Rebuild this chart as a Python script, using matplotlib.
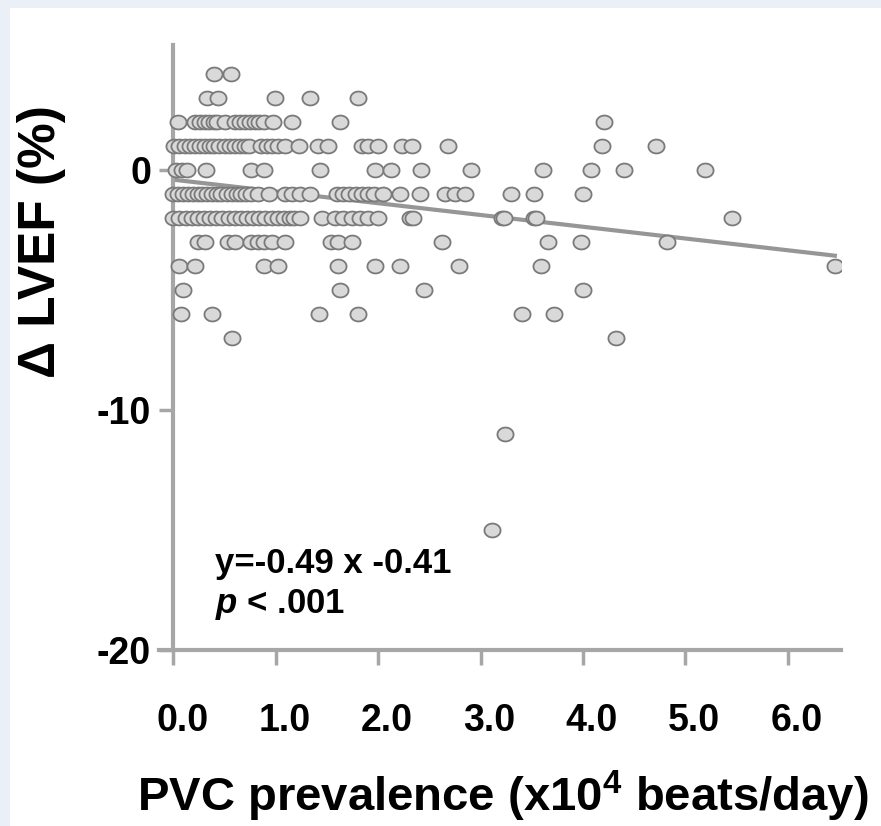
import numpy as np
import matplotlib
matplotlib.use("Agg")
import matplotlib.pyplot as plt
from matplotlib.patches import Rectangle
from matplotlib.path import Path
from matplotlib.transforms import ScaledTranslation

plt.rcParams["font.family"] = ["Liberation Sans", "DejaVu Sans"]
plt.rcParams["font.weight"] = "bold"
plt.rcParams["axes.unicode_minus"] = False
plt.rcParams["mathtext.fontset"] = "custom"
plt.rcParams["mathtext.rm"] = "Liberation Sans:bold"
plt.rcParams["mathtext.bf"] = "Liberation Sans:bold"
plt.rcParams["mathtext.it"] = "Liberation Sans:bold:italic"

# ─────────────────────────────────────────────
# DATA (one list per ΔLVEF row)
# ─────────────────────────────────────────────
x_p4 = [0.40, 0.56]
x_p3 = [0.33, 0.44, 0.99, 1.33, 1.80]
x_p2 = [0.05, 0.21, 0.26, 0.31, 0.35, 0.40, 0.43, 0.50, 0.60, 0.65, 0.70,
        0.75, 0.80, 0.84, 0.89, 0.97, 1.16, 1.63, 4.21]
x_p1 = [0.01, 0.06, 0.11, 0.16, 0.21, 0.26, 0.31, 0.36, 0.40, 0.45, 0.50,
        0.55, 0.60, 0.65, 0.70, 0.74, 0.86, 0.91, 0.96, 1.02, 1.09, 1.23,
        1.41, 1.51, 1.84, 1.90, 2.00, 2.23, 2.33, 2.68, 4.19, 4.71]
x_0 = [0.03, 0.08, 0.13, 0.32, 0.76, 0.89, 1.43, 1.97, 2.13, 2.42, 2.91,
       3.61, 4.08, 4.40, 5.19]
x_m1 = [0.00, 0.05, 0.09, 0.14, 0.19, 0.24, 0.28, 0.33, 0.38, 0.43, 0.47,
        0.52, 0.57, 0.62, 0.66, 0.71, 0.76, 0.83, 0.93, 1.09, 1.16, 1.24,
        1.33, 1.60, 1.66, 1.72, 1.78, 1.84, 1.90, 1.96, 2.05, 2.21, 2.41,
        2.65, 2.75, 2.85, 3.30, 3.52, 4.00]
x_m2 = [0.00, 0.06, 0.12, 0.18, 0.24, 0.30, 0.36, 0.42, 0.48, 0.54, 0.60,
        0.66, 0.72, 0.78, 0.84, 0.90, 0.96, 1.02, 1.08, 1.14, 1.18, 1.24,
        1.45, 1.58, 1.66, 1.74, 1.82, 1.90, 2.00, 2.31, 2.34, 3.21, 3.23,
        3.52, 3.54, 5.46]
x_m3 = [0.24, 0.31, 0.53, 0.60, 0.76, 0.83, 0.89, 0.96, 1.09, 1.54, 1.61,
        1.74, 2.62, 3.66, 3.98, 4.82]
x_m4 = [0.06, 0.21, 0.89, 1.02, 1.61, 1.97, 2.21, 2.79, 3.59, 6.46]
x_m5 = [0.09, 1.63, 2.45, 4.00]
x_m6 = [0.07, 0.38, 1.42, 1.80, 3.40, 3.72]
x_m7 = [0.57, 4.32]
x_m11 = [3.24]
x_m15 = [3.11]

rows = [(4, x_p4), (3, x_p3), (2, x_p2), (1, x_p1), (0, x_0), (-1, x_m1),
        (-2, x_m2), (-3, x_m3), (-4, x_m4), (-5, x_m5), (-6, x_m6),
        (-7, x_m7), (-11, x_m11), (-15, x_m15)]

slope, intercept = -0.49, -0.41
fit_x = [0.0, 6.48]

xticks = [0, 1, 2, 3, 4, 5, 6]
xtick_labels = ["0.0", "1.0", "2.0", "3.0", "4.0", "5.0", "6.0"]
yticks = [0, -10, -20]

# ─────────────────────────────────────────────
# COLOURS
# ─────────────────────────────────────────────
AXIS = "#a6a6a6"
FACE = "#d9d9d9"
EDGE = "#7a7a7a"
LINE = "#969696"
BG   = "#eaeff8"

W, H = 881, 826
fig = plt.figure(figsize=(W / 100, H / 100), dpi=100)
fig.patch.set_facecolor(BG)
fig.patches.append(Rectangle((10 / W, 0), 1, 1 - 8 / H, transform=fig.transFigure,
                             facecolor="white", edgecolor="none", zorder=-5))

ax = fig.add_axes([159 / W, (H - 650) / H, 682 / W, 605 / H])
ax.set_facecolor("none")
ax.set_zorder(2)

xs = np.concatenate([np.array(v, dtype=float) for _, v in rows])
ys = np.concatenate([np.full(len(v), yv, dtype=float) for yv, v in rows])

# slightly flattened circle marker, like the original export
t = np.linspace(0, 2 * np.pi, 60)
ell = Path(np.column_stack([np.cos(t), 0.86 * np.sin(t)]), closed=True)

fx = np.array(fit_x)
ax.plot(fx, slope * fx + intercept, color=LINE, lw=3.0, zorder=2,
        solid_capstyle="butt")
ax.scatter(xs, ys, s=135, marker=ell, facecolor=FACE, edgecolor=EDGE,
           linewidths=1.3, zorder=3)

ax.set_xlim(-0.14, 6.52)
ax.set_ylim(-20, 5.2)

for s in ["top", "right"]:
    ax.spines[s].set_visible(False)
ax.spines["left"].set_position(("data", 0))
for s in ["left", "bottom"]:
    ax.spines[s].set_color(AXIS)
    ax.spines[s].set_linewidth(3.0)

ax.set_xticks(xticks)
ax.set_xticklabels(xtick_labels)
ax.set_yticks(yticks)
ax.tick_params(axis="x", direction="out", length=11, width=2.5, color=AXIS,
               labelsize=27, pad=27)
ax.tick_params(axis="y", direction="out", length=10, width=2.5, color=AXIS,
               labelsize=27, pad=6)

# x labels sit a little right of their ticks in the original
shift = ScaledTranslation(9 / 100, 0, fig.dpi_scale_trans)
for lab in ax.get_xticklabels():
    lab.set_transform(lab.get_transform() + shift)

fig.text(42 / W, 1 - 242 / H, "Δ LVEF (%)", rotation=90, ha="center",
         va="center", fontsize=37, fontweight="bold")
fig.text(503 / W, 1 - 796 / H, r"PVC prevalence (x10$^{4}$ beats/day)",
         ha="center", va="center", fontsize=34, fontweight="bold")

fig.text(215 / W, 1 - 563 / H, "y=-0.49 x -0.41", ha="left", va="center",
         fontsize=25, fontweight="bold")
fig.text(215 / W, 1 - 604 / H, r"$p$ < .001", ha="left", va="center",
         fontsize=25, fontweight="bold")

fig.savefig("out.png", dpi=100, facecolor=fig.get_facecolor())
